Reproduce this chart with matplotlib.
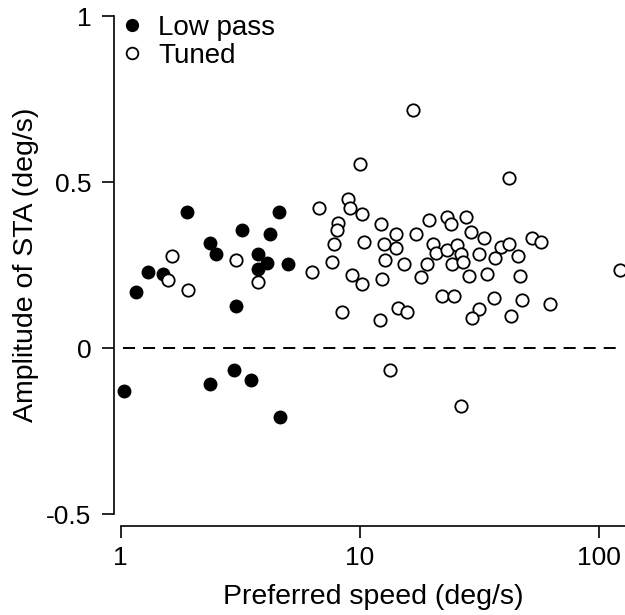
import matplotlib
matplotlib.use("Agg")
import matplotlib.pyplot as plt
from matplotlib.lines import Line2D

plt.rcParams['font.family'] = ['Liberation Sans', 'DejaVu Sans']
plt.rcParams['font.size'] = 19

# Low pass cells: preferred speed (deg/s) and STA amplitude (deg/s)
lowpass_speed = [1.03, 1.16, 1.30, 1.50, 1.90, 2.36, 2.50, 3.02, 2.36, 2.97,
                 3.49, 3.22, 3.76, 4.07, 3.76, 4.21, 4.59, 5.02, 4.63]
lowpass_amp = [-0.128, 0.169, 0.230, 0.224, 0.410, 0.316, 0.283, 0.127, -0.108, -0.065,
               -0.095, 0.356, 0.284, 0.256, 0.238, 0.344, 0.410, 0.254, -0.206]

# Tuned cells
tuned_speed = [1.64, 1.58, 1.92, 3.03, 3.76, 6.32, 6.74, 16.6, 10.0, 8.94,
               9.08, 10.2, 8.12, 7.99, 12.2, 14.2, 17.1, 19.4, 23.0, 23.9,
               27.8, 29.0, 33.1, 38.7, 7.81, 10.4, 12.6, 14.2, 20.1, 20.8,
               23.0, 25.4, 26.4, 31.3, 36.8, 7.66, 12.7, 15.3, 19.0, 24.2,
               27.0, 9.29, 12.4, 17.9, 28.5, 33.8, 10.2, 8.43, 12.1, 14.4,
               15.7, 22.1, 24.8, 31.4, 29.4, 36.4, 13.4, 26.4, 41.8, 52.5,
               57.1, 41.9, 45.9, 46.8, 47.7, 62.2, 42.6, 122.0]
tuned_amp = [0.278, 0.206, 0.175, 0.266, 0.199, 0.230, 0.424, 0.718, 0.555, 0.450,
             0.422, 0.405, 0.378, 0.356, 0.374, 0.345, 0.344, 0.386, 0.396, 0.373,
             0.395, 0.349, 0.332, 0.304, 0.314, 0.320, 0.314, 0.301, 0.314, 0.288,
             0.296, 0.311, 0.284, 0.284, 0.271, 0.260, 0.266, 0.254, 0.254, 0.255,
             0.260, 0.221, 0.210, 0.215, 0.219, 0.224, 0.194, 0.108, 0.084, 0.121,
             0.108, 0.158, 0.158, 0.117, 0.090, 0.151, -0.065, -0.174, 0.512, 0.333,
             0.320, 0.314, 0.278, 0.217, 0.145, 0.133, 0.097, 0.236]

xticks = [1, 10, 100]
xtick_labels = ['1', '10', '100']
yticks = [-0.5, 0, 0.5, 1]
ytick_labels = ['-0.5', '0', '0.5', '1']

fig = plt.figure(figsize=(6.25, 6.15), dpi=100)
ax = fig.add_axes([0.1931, 0.1637, 0.8069, 0.8098])

# zero reference
ax.axhline(0, xmin=0.005, xmax=0.99, color='black', lw=1.4, ls=(0, (6.2, 4.1)), zorder=1)

ms = 8.9
ax.plot(lowpass_speed, lowpass_amp, 'o', ms=ms, mfc='black', mec='black', mew=1.1,
        clip_on=False, zorder=3)
ax.plot(tuned_speed, tuned_amp, 'o', ms=ms, mfc='white', mec='black', mew=1.3,
        clip_on=False, zorder=3)

ax.set_xscale('log')
ax.set_xlim(1, 128)
ax.set_ylim(-0.5, 1)
ax.set_xticks(xticks)
ax.set_xticklabels(xtick_labels)
ax.minorticks_off()
ax.set_yticks(yticks)
ax.set_yticklabels(ytick_labels)

for side in ['top', 'right']:
    ax.spines[side].set_visible(False)
ax.spines['left'].set_position(('outward', 4.6))
ax.spines['bottom'].set_position(('outward', 8.4))
ax.spines['left'].set_linewidth(1.2)
ax.spines['bottom'].set_linewidth(1.2)
ax.tick_params(axis='x', length=8.6, width=1.2, pad=6)
ax.tick_params(axis='y', length=9, width=1.2, pad=7.5)

ax.set_xlabel('Preferred speed (deg/s)', fontsize=20.5)
ax.set_ylabel('Amplitude of STA (deg/s)', fontsize=20.5)
ax.xaxis.set_label_coords(0.5, -0.139)
ax.yaxis.set_label_coords(-0.162, 0.5)

handles = [
    Line2D([], [], ls='none', marker='o', ms=8.4, mfc='black', mec='black', mew=1.1),
    Line2D([], [], ls='none', marker='o', ms=8.4, mfc='white', mec='black', mew=1.3),
]
ax.legend(handles, ['Low pass', 'Tuned'], loc='upper left', bbox_to_anchor=(0, 1.003),
          frameon=False, borderpad=0, borderaxespad=0, handlelength=0.8,
          handletextpad=0.55, labelspacing=0.08, fontsize=20)

fig.savefig('out.png', dpi=100)
